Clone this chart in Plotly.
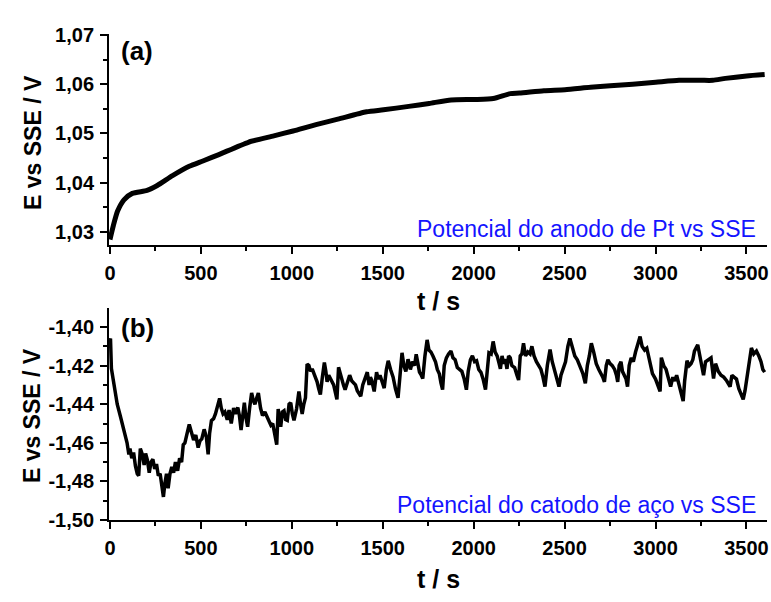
import plotly.graph_objects as go

# Pt anode potential vs SSE over time
t_anode = [0, 19, 42, 77, 123, 204, 260, 344, 436, 511, 599, 761, 901, 1007, 1133,
           1253, 1411, 1504, 1643, 1755, 1876, 2004, 2108, 2201, 2252, 2386, 2502,
           2642, 2751, 2874, 3001, 3129, 3250, 3315, 3384, 3501, 3600]
e_anode = [1.0284, 1.0313, 1.0342, 1.0365, 1.0378, 1.0384, 1.0394, 1.0414, 1.0433,
           1.0444, 1.0457, 1.0482, 1.0495, 1.0505, 1.0518, 1.0529, 1.0544, 1.0548,
           1.0555, 1.0561, 1.0568, 1.0569, 1.0571, 1.0581, 1.0582, 1.0587, 1.0589,
           1.0594, 1.0597, 1.0600, 1.0604, 1.0608, 1.0608, 1.0608, 1.0612, 1.0617,
           1.0620]

# Steel cathode potential vs SSE over time
t_cathode = [0, 3, 8, 22, 40, 58, 76, 94, 104, 110, 120, 130, 140, 150, 158, 167, 178,
             188, 196, 206, 216, 226, 236, 246, 256, 266, 276, 286, 294, 302, 311, 320,
             330, 340, 350, 360, 372, 383, 394, 403, 412, 422, 436, 448, 460, 472, 485,
             495, 505, 518, 530, 540, 548, 558, 570, 580, 592, 603, 612, 622, 632, 645,
             655, 667, 680, 690, 703, 712, 721, 730, 739, 748, 757, 768, 779, 788, 797,
             806, 816, 828, 839, 852, 866, 876, 885, 895, 903, 917, 925, 932, 939, 948,
             957, 966, 975, 985, 994, 1003, 1012, 1026, 1039, 1048, 1057, 1066, 1075,
             1084, 1094, 1103, 1112, 1125, 1139, 1148, 1157, 1168, 1179, 1187, 1194,
             1203, 1216, 1230, 1248, 1257, 1266, 1275, 1284, 1293, 1305, 1318, 1330,
             1339, 1350, 1360, 1370, 1379, 1390, 1405, 1415, 1425, 1432, 1439, 1453,
             1466, 1475, 1485, 1497, 1508, 1520, 1530, 1543, 1557, 1570, 1584, 1595,
             1606, 1616, 1627, 1639, 1652, 1663, 1675, 1684, 1693, 1702, 1712, 1720,
             1732, 1744, 1754, 1765, 1776, 1790, 1800, 1811, 1820, 1829, 1838, 1850,
             1862, 1875, 1886, 1898, 1910, 1922, 1935, 1948, 1960, 1970, 1982, 1993,
             2005, 2016, 2028, 2040, 2052, 2065, 2076, 2084, 2096, 2107, 2118, 2129,
             2140, 2147, 2156, 2165, 2174, 2183, 2192, 2201, 2210, 2225, 2238, 2247,
             2256, 2265, 2274, 2285, 2298, 2310, 2320, 2332, 2345, 2356, 2370, 2381,
             2392, 2405, 2420, 2432, 2445, 2457, 2469, 2480, 2492, 2505, 2518, 2529,
             2541, 2556, 2570, 2585, 2600, 2614, 2625, 2636, 2647, 2660, 2674, 2688,
             2700, 2710, 2719, 2729, 2738, 2750, 2762, 2775, 2785, 2792, 2800, 2810,
             2818, 2828, 2838, 2846, 2855, 2866, 2878, 2890, 2903, 2915, 2926, 2940,
             2952, 2965, 2983, 3000, 3010, 3025, 3032, 3045, 3058, 3070, 3083, 3095,
             3105, 3116, 3128, 3140, 3152, 3160, 3173, 3185, 3195, 3205, 3214, 3232,
             3245, 3257, 3264, 3275, 3290, 3305, 3319, 3330, 3345, 3360, 3375, 3392,
             3410, 3420, 3432, 3445, 3458, 3470, 3482, 3492, 3505, 3518, 3527, 3540,
             3555, 3568, 3580, 3590, 3600]
e_cathode = [-1.4070, -1.4060, -1.4215, -1.4300, -1.4400, -1.4465, -1.4535, -1.4600,
             -1.4660, -1.4630, -1.4680, -1.4650, -1.4720, -1.4760, -1.4770, -1.4630,
             -1.4660, -1.4715, -1.4655, -1.4690, -1.4755, -1.4700, -1.4685, -1.4735,
             -1.4710, -1.4770, -1.4760, -1.4830, -1.4880, -1.4810, -1.4760, -1.4835,
             -1.4760, -1.4725, -1.4755, -1.4700, -1.4745, -1.4680, -1.4700, -1.4610,
             -1.4600, -1.4560, -1.4505, -1.4545, -1.4585, -1.4560, -1.4625, -1.4590,
             -1.4580, -1.4530, -1.4570, -1.4660, -1.4550, -1.4485, -1.4475, -1.4450,
             -1.4410, -1.4370, -1.4420, -1.4450, -1.4440, -1.4480, -1.4430, -1.4500,
             -1.4420, -1.4450, -1.4417, -1.4460, -1.4534, -1.4440, -1.4392, -1.4470,
             -1.4517, -1.4420, -1.4342, -1.4380, -1.4400, -1.4370, -1.4342, -1.4420,
             -1.4459, -1.4440, -1.4467, -1.4485, -1.4509, -1.4500, -1.4534, -1.4609,
             -1.4425, -1.4480, -1.4517, -1.4440, -1.4434, -1.4480, -1.4484, -1.4400,
             -1.4392, -1.4450, -1.4484, -1.4425, -1.4334, -1.4400, -1.4450, -1.4400,
             -1.4367, -1.4192, -1.4200, -1.4230, -1.4217, -1.4250, -1.4284, -1.4320,
             -1.4350, -1.4260, -1.4184, -1.4230, -1.4284, -1.4250, -1.4270, -1.4300,
             -1.4375, -1.4209, -1.4240, -1.4275, -1.4300, -1.4325, -1.4280, -1.4250,
             -1.4280, -1.4292, -1.4300, -1.4330, -1.4345, -1.4359, -1.4300, -1.4260,
             -1.4234, -1.4300, -1.4260, -1.4275, -1.4334, -1.4234, -1.4270, -1.4250,
             -1.4280, -1.4317, -1.4220, -1.4175, -1.4220, -1.4260, -1.4320, -1.4367,
             -1.4250, -1.4134, -1.4200, -1.4230, -1.4167, -1.4220, -1.4180, -1.4200,
             -1.4142, -1.4200, -1.4234, -1.4250, -1.4267, -1.4150, -1.4067, -1.4120,
             -1.4130, -1.4150, -1.4180, -1.4220, -1.4242, -1.4290, -1.4325, -1.4200,
             -1.4160, -1.4140, -1.4125, -1.4160, -1.4170, -1.4210, -1.4220, -1.4230,
             -1.4270, -1.4325, -1.4230, -1.4170, -1.4150, -1.4180, -1.4175, -1.4220,
             -1.4235, -1.4270, -1.4325, -1.4200, -1.4134, -1.4140, -1.4075, -1.4130,
             -1.4150, -1.4190, -1.4217, -1.4150, -1.4190, -1.4167, -1.4217, -1.4150,
             -1.4160, -1.4200, -1.4210, -1.4250, -1.4275, -1.4150, -1.4140, -1.4084,
             -1.4150, -1.4130, -1.4140, -1.4100, -1.4150, -1.4180, -1.4200, -1.4220,
             -1.4260, -1.4309, -1.4200, -1.4117, -1.4180, -1.4220, -1.4260, -1.4309,
             -1.4250, -1.4220, -1.4180, -1.4100, -1.4059, -1.4100, -1.4150, -1.4170,
             -1.4200, -1.4240, -1.4292, -1.4200, -1.4150, -1.4084, -1.4130, -1.4190,
             -1.4220, -1.4240, -1.4260, -1.4284, -1.4200, -1.4170, -1.4190, -1.4200,
             -1.4220, -1.4250, -1.4284, -1.4200, -1.4180, -1.4230, -1.4250, -1.4270,
             -1.4309, -1.4200, -1.4160, -1.4180, -1.4130, -1.4090, -1.4050, -1.4100,
             -1.4120, -1.4110, -1.4170, -1.4242, -1.4270, -1.4292, -1.4334, -1.4159,
             -1.4200, -1.4220, -1.4260, -1.4309, -1.4260, -1.4280, -1.4250, -1.4290,
             -1.4340, -1.4384, -1.4280, -1.4175, -1.4200, -1.4190, -1.4170, -1.4125,
             -1.4092, -1.4160, -1.4200, -1.4250, -1.4180, -1.4170, -1.4160, -1.4267,
             -1.4190, -1.4230, -1.4250, -1.4260, -1.4280, -1.4309, -1.4250, -1.4260,
             -1.4270, -1.4320, -1.4350, -1.4375, -1.4330, -1.4240, -1.4150, -1.4109,
             -1.4140, -1.4125, -1.4150, -1.4180, -1.4220, -1.4234]

x_ticks = [0, 500, 1000, 1500, 2000, 2500, 3000, 3500]
y_ticks_a = [1.03, 1.04, 1.05, 1.06, 1.07]
y_ticks_b = [-1.50, -1.48, -1.46, -1.44, -1.42, -1.40]

panel_labels = ["(a)", "(b)"]
series_labels = ["Potencial do anodo de Pt vs SSE", "Potencial do catodo de aço vs SSE"]
x_title = "t / s"
y_title = "E vs SSE / V"

W, H = 771, 602
FONT = "Liberation Sans, Arial, sans-serif"


def comma_label(v):
    # decimal comma and a plain hyphen for negatives
    return f"{v:.2f}".replace(".", ",")


fig = go.Figure()
fig.add_trace(go.Scatter(x=t_anode, y=e_anode, mode="lines",
                         line=dict(color="black", width=5, shape="spline", smoothing=0.6),
                         xaxis="x", yaxis="y", showlegend=False))
fig.add_trace(go.Scatter(x=t_cathode, y=e_cathode, mode="lines",
                         line=dict(color="black", width=3.5),
                         xaxis="x2", yaxis="y2", showlegend=False))

xdom = [105 / W, 769 / W]
top_dom = [1 - 244 / H, 1 - 25 / H]
bot_dom = [1 - 528.5 / H, 1 - 309 / H]

tickfont = dict(family=FONT, size=20, color="black", weight="bold")


def xaxis_cfg(anchor):
    return dict(domain=xdom, range=[-5, 3613], anchor=anchor, showline=True,
                linecolor="black", linewidth=2, ticks="outside", ticklen=7,
                tickwidth=2, tickcolor="black", tickvals=x_ticks,
                ticktext=[str(v) for v in x_ticks], showgrid=False,
                zeroline=False, tickfont=tickfont, ticklabelstandoff=2,
                minor=dict(ticks="outside", ticklen=4, tickwidth=2,
                           tickcolor="black", dtick=250, tick0=0, showgrid=False))


def yaxis_cfg(anchor, dom, rng, vals, minor_dtick):
    return dict(domain=dom, range=rng, anchor=anchor, showline=True,
                linecolor="black", linewidth=2, ticks="outside", ticklen=7,
                tickwidth=2, tickcolor="black", tickvals=vals,
                ticktext=[comma_label(v) for v in vals],
                showgrid=False, zeroline=False, tickfont=tickfont,
                ticklabelstandoff=2,
                minor=dict(ticks="outside", ticklen=4, tickwidth=2,
                           tickcolor="black", dtick=minor_dtick, tick0=0,
                           showgrid=False))


fig.update_layout(
    width=W, height=H,
    margin=dict(l=0, r=0, t=0, b=0),
    paper_bgcolor="white", plot_bgcolor="white",
    xaxis=xaxis_cfg("y"),
    yaxis=yaxis_cfg("x", top_dom, [1.0272, 1.0702], y_ticks_a, 0.005),
    xaxis2=xaxis_cfg("y2"),
    yaxis2=yaxis_cfg("x2", bot_dom, [-1.5, -1.3903], y_ticks_b, 0.01),
)

ann = []
for lbl, yc in zip(panel_labels, [42, 330]):
    ann.append(dict(text=f"<b>{lbl}</b>", x=115 / W, y=1 - yc / H, xref="paper",
                    yref="paper", xanchor="left", yanchor="middle", showarrow=False,
                    font=dict(family=FONT, size=26, color="black")))
for lbl, yc in zip(series_labels, [227, 513]):
    ann.append(dict(text=lbl, x=760 / W, y=1 - yc / H, xref="paper", yref="paper",
                    xanchor="right", yanchor="middle", showarrow=False,
                    font=dict(family=FONT, size=23, color="#1414ff")))
for yc in [302, 590]:
    ann.append(dict(text=f"<b>{x_title}</b>", x=437 / W, y=1 - yc / H, xref="paper",
                    yref="paper", xanchor="center", yanchor="middle", showarrow=False,
                    font=dict(family=FONT, size=25, color="black")))
for yc in [137, 420]:
    ann.append(dict(text=f"<b>{y_title}</b>", x=28 / W, y=1 - yc / H, xref="paper",
                    yref="paper", xanchor="center", yanchor="middle", showarrow=False,
                    textangle=-90, font=dict(family=FONT, size=23, color="black")))
fig.update_layout(annotations=ann)

fig.write_html("out.html")
